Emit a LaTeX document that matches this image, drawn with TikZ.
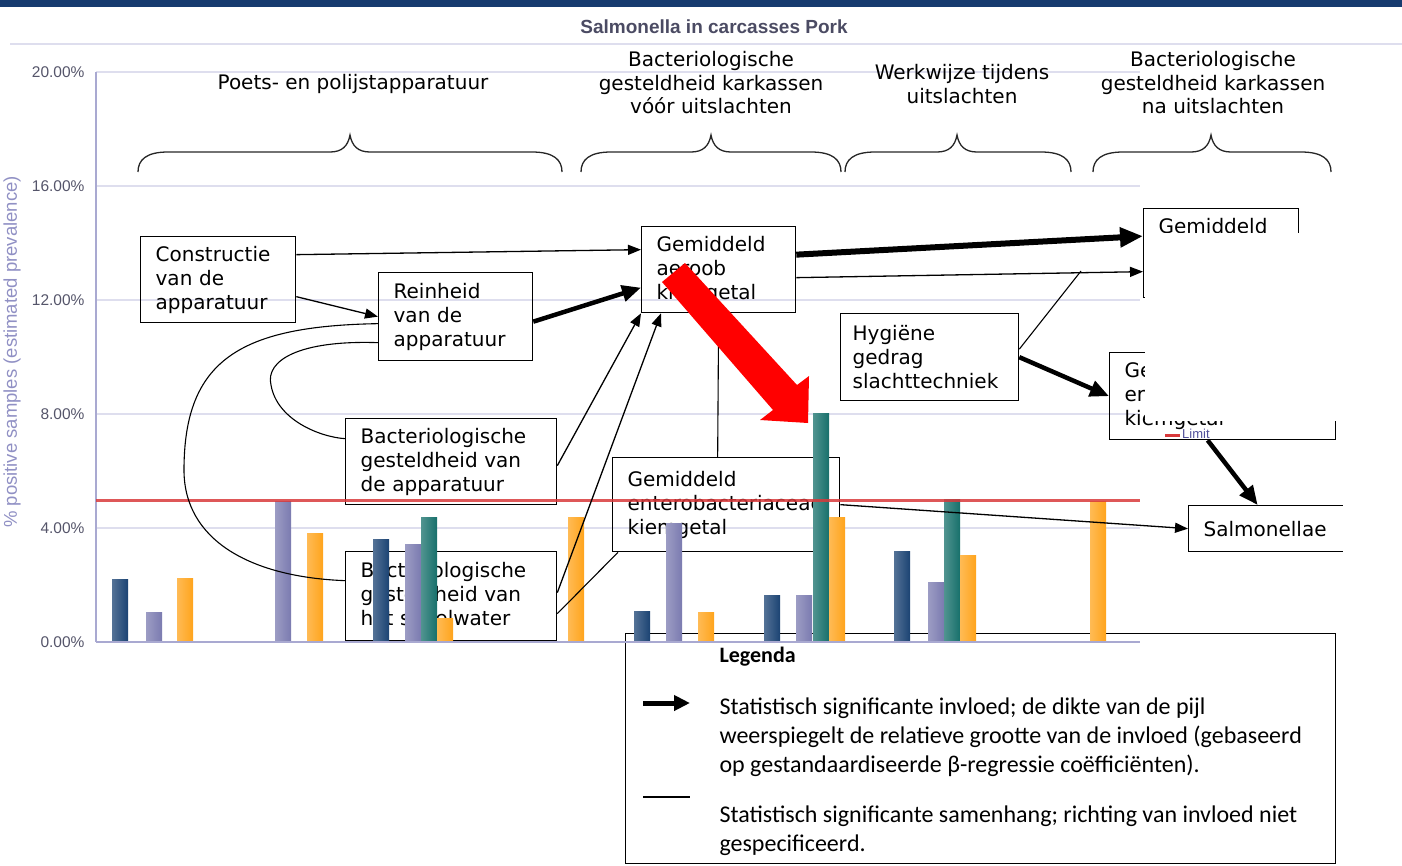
\documentclass[tikz,border=0pt]{standalone}
\usepackage{fontspec}
\setmainfont{DejaVu Sans}
\newfontfamily\chartfont{Liberation Sans}
\newfontfamily\legendfont{Carlito}
\usetikzlibrary{arrows.meta, calc}
\definecolor{BandBlue}{HTML}{173B6F}
\definecolor{TitleGrey}{HTML}{4B4B63}
\definecolor{GridLav}{HTML}{DEDEEE}
\definecolor{AxisLav}{HTML}{A9A9D1}
\definecolor{TickGrey}{HTML}{55556A}
\definecolor{LabelLav}{HTML}{9090C4}
\definecolor{BarNavy}{HTML}{1B4373}
\definecolor{BarLav}{HTML}{7B7BB0}
\definecolor{BarTeal}{HTML}{17706B}
\definecolor{BarOrange}{HTML}{FFA41C}
\definecolor{LimitRed}{HTML}{D8393B}
\definecolor{LimitBlue}{HTML}{50509A}
\definecolor{MarkRed}{HTML}{FF0000}

% curly brace over a group of bars: left end, tip, right end
\newcommand{\catbrace}[3]{%
  \draw[brace line] (#1,172) .. controls (#1,160) and (#1+8,152) .. (#1+30,152)
    -- (#2-20,152) .. controls (#2-8,152) and (#2-2,146) .. (#2,135)
    .. controls (#2+2,146) and (#2+8,152) .. (#2+20,152)
    -- (#3-30,152) .. controls (#3-8,152) and (#3,160) .. (#3,172);}

\begin{document}
\begin{tikzpicture}[x=1pt, y=-1pt,
  box/.style={draw, line width=1.3pt, anchor=north west, align=left,
    inner xsep=15pt, inner ysep=0pt, font=\fontsize{20}{24}\selectfont},
  catlabel/.style={align=center, font=\fontsize{20}{23.5}\selectfont},
  ticklabel/.style={anchor=east, font=\chartfont\fontsize{15.5}{18}\selectfont, text=TickGrey},
  infl/.style={line width=1.3pt, -{Triangle[length=13pt, width=10pt]}},
  strong/.style={line width=4.5pt, -{Triangle[length=19pt, width=16pt]}},
  strongest/.style={line width=6pt, -{Triangle[length=23pt, width=19pt]}},
  assoc/.style={line width=1.1pt},
  brace line/.style={line width=1.3pt, black!85},
  legtext/.style={anchor=west, align=left, font=\legendfont\fontsize{24}{29}\selectfont}
]
\useasboundingbox (0,0) rectangle (1402,865);

% chart frame
\fill[BandBlue] (0,0) rectangle (1402,7);
\node[font=\chartfont\bfseries\fontsize{19}{22}\selectfont, text=TitleGrey] (title) at (714,27) {Salmonella in carcasses Pork};
\draw[GridLav, line width=2pt] (10,44) -- (1402,44);
\foreach \v [count=\i from 0] in {0.00,4.00,8.00,12.00,16.00,20.00} {
  \draw[GridLav, line width=1.5pt] (96,642-114*\i) -- (1140,642-114*\i);
  \node[ticklabel] (tick\i) at (88,642-114*\i) {\v\%};
}
\draw[AxisLav, line width=2pt] (96,72) -- (96,642);
\node[rotate=90, font=\chartfont\fontsize{18.5}{20}\selectfont, text=LabelLav] (ylab) at (12,352) {\% positive samples (estimated prevalence)};

% categories
\node[catlabel] (capp) at (353,84) {Poets- en polijstapparatuur};
\node[catlabel] (cpre) at (711,83) {Bacteriologische\\gesteldheid karkassen\\vóór uitslachten};
\node[catlabel] (cwork) at (962,84) {Werkwijze tijdens\\uitslachten};
\node[catlabel] (cpost) at (1213,83) {Bacteriologische\\gesteldheid karkassen\\na uitslachten};
\catbrace{138}{350}{562}
\catbrace{581}{711}{841}
\catbrace{845}{957}{1071}
\catbrace{1093}{1211}{1331}

% factors
\node[box, text width=125pt, minimum height=86pt] (constr) at (140,236) {Constructie\\van de\\apparatuur};
\node[box, text width=124pt, minimum height=88pt] (rein) at (378,272) {Reinheid\\van de\\apparatuur};
\node[box, text width=181pt, minimum height=86pt] (bapp) at (345,418) {Bacteriologische\\gesteldheid van\\de apparatuur};
\node[box, text width=181pt, minimum height=89pt] (bspoel) at (345,551) {Bacteriologische\\gesteldheid van\\het spoelwater};
\node[box, text width=124pt, minimum height=86pt] (aeroob) at (641,226) {Gemiddeld\\aeroob\\kiemgetal};
\node[box, text width=197pt, minimum height=94pt] (entero) at (612,457) {Gemiddeld\\enterobacteriaceae\\kiemgetal};
\node[box, text width=154pt, inner xsep=12pt, minimum height=87pt] (hyg) at (840,313) {Hygiëne\\gedrag\\slachttechniek};
\node[box, text width=125pt, minimum height=89pt] (gemtop) at (1143,208) {Gemiddeld\\\strut\\\strut};
\node[box, text width=196pt, minimum height=87pt] (ge) at (1109,352) {Ge\\er\\kiemgetal};
\node[box, text width=160pt, minimum height=46pt] (salm) at (1188,505) {Salmonellae};

% legend
\node[draw, line width=1.3pt, anchor=north west, minimum width=710pt, minimum height=230pt] (legend) at (625,633) {};
\node[anchor=west, font=\legendfont\bfseries\fontsize{22}{24}\selectfont] (legtitle) at (716,657) {Legenda};
\coordinate (keyA) at (643,703);
\coordinate (keyB) at (690,703);
\coordinate (keyC) at (643,797);
\coordinate (keyD) at (690,797);
\draw[line width=5pt, -{Triangle[length=16pt, width=15pt]}] (keyA) -- (keyB);
\draw[line width=1.3pt] (keyC) -- (keyD);
\node[legtext] (legone) at (716,737) {Statistisch significante invloed; de dikte van de pijl\\weerspiegelt de relatieve grootte van de invloed (gebaseerd\\op gestandaardiseerde β-regressie coëfficiënten).};
\node[legtext] (legtwo) at (716,831) {Statistisch significante samenhang; richting van invloed niet\\gespecificeerd.};

% bars
\foreach \x/\t/\col in {112/579/BarNavy, 146/612/BarLav, 177/578/BarOrange,
    275/501/BarLav, 307/533/BarOrange,
    373/539/BarNavy, 405/544/BarLav, 421/517/BarTeal, 437/618/BarOrange,
    568/517/BarOrange,
    634/611/BarNavy, 666/523/BarLav, 698/612/BarOrange,
    764/595/BarNavy, 796/595/BarLav, 813/413/BarTeal, 829/517/BarOrange,
    894/551/BarNavy, 928/582/BarLav, 944/499/BarTeal, 960/555/BarOrange,
    1090/501/BarOrange}
  \shade[left color=\col!75!white, right color=\col] (\x,642) rectangle (\x+16,\t);
\draw[AxisLav, line width=2.5pt] (96,642) -- (1140,642);
\draw[LimitRed, line width=3pt, opacity=0.85] (96,500) -- (1140,500);

% influences and associations
\draw[infl] ([yshift=25pt]constr.east) -- ([yshift=20pt]aeroob.west);
\draw[infl] ([yshift=-17pt]constr.east) -- (rein.west);
\draw[strong] ([yshift=-5pt]rein.east) -- ([yshift=-18pt]aeroob.west);
\draw[strongest] ([yshift=15pt]aeroob.east) -- ([yshift=17pt]gemtop.west);
\draw[infl] ([yshift=-8pt]aeroob.east) -- ([yshift=-18.5pt]gemtop.west);
\coordinate (ejoin) at (1081,271);
\draw[assoc] ([yshift=8pt]hyg.east) -- (ejoin);
\draw[strong] (hyg.east) -- (ge.west);
\draw[strong] ([xshift=-15pt]ge.south) -- ([xshift=-26pt]salm.north);
\draw[infl] (entero.east) -- (salm.west);
\draw[assoc] (aeroob.south) -- ([xshift=-8.5pt]entero.north);
\draw[infl] ([yshift=-4pt]bapp.east) -- (aeroob.south west);
\draw[infl] ([yshift=3.5pt]bspoel.east) -- ([xshift=20pt]aeroob.south west);
\draw[assoc] ([yshift=-17.5pt]bspoel.east) -- ([xshift=6pt]entero.south west);
\draw[assoc] ([yshift=-7pt]rein.west) .. controls (240,326) and (184,360) .. (184,470)
  .. controls (184,540) and (250,577) .. ([yshift=15.5pt]bspoel.west);
\draw[assoc] ([yshift=-26pt]rein.west) .. controls (300,340) and (265,360) .. (271,385)
  .. controls (277,420) and (320,437) .. ([yshift=23pt]bapp.west);

% cut-away parts
\fill[white] (1145,233) rectangle (1402,421);
\fill[white] (1343,495) rectangle (1402,560);
\draw[LimitRed, line width=3pt] (1165,435) -- (1180,435);
\node[anchor=west, inner sep=1pt, font=\chartfont\fontsize{13}{15}\selectfont, text=LimitBlue] (limit) at (1181,434) {Limit};

% pointer
\fill[MarkRed] (685,263) -- (797,385) -- (809,376) -- (808,423) -- (760,420) -- (773,410) -- (662,282) -- cycle;
\end{tikzpicture}
\end{document}
